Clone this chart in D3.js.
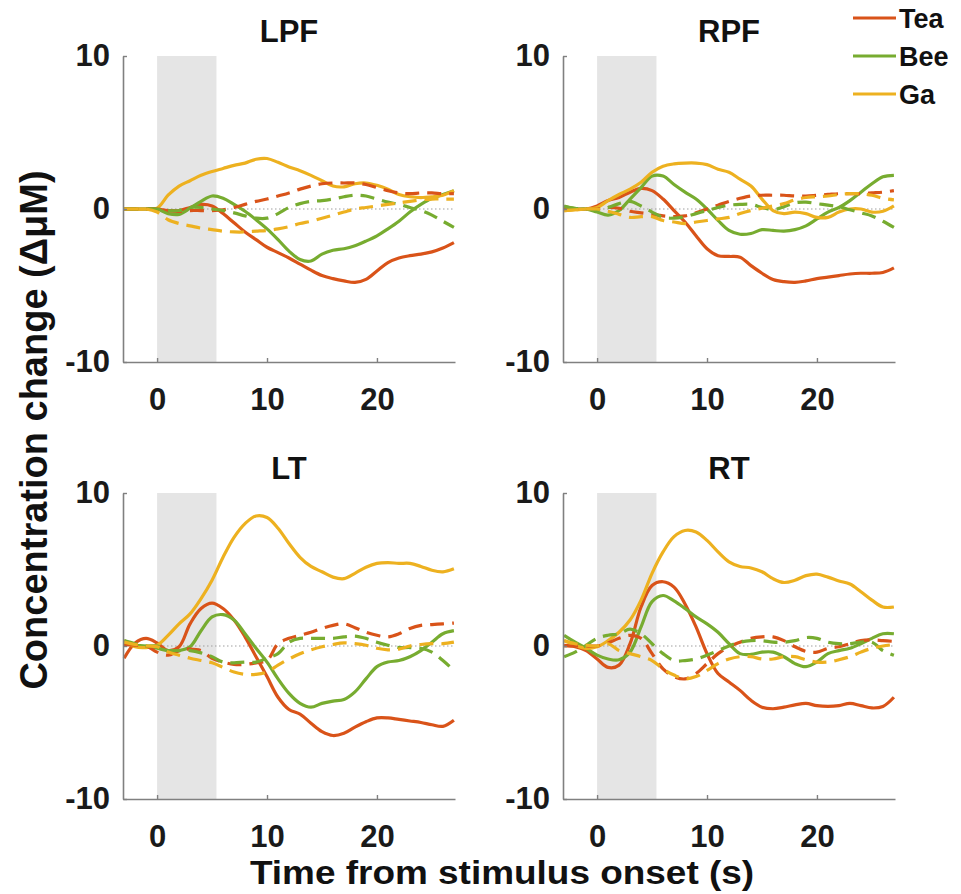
<!DOCTYPE html>
<html>
<head>
<meta charset="utf-8">
<script src="https://cdn.jsdelivr.net/npm/d3@7"></script>
<style>
  body { margin: 0; background: #fff; }
  svg { display: block; font-family: "Liberation Sans", Arial, sans-serif; font-weight: bold; }
</style>
</head>
<body>
<script>
// time samples (s)
var times = [-3,-2,-1,0,1,2,3,4,5,6,7,8,9,10,11,12,13,14,15,16,17,18,19,20,21,22,23,24,25,26,27];

var panelNames = ["LPF", "RPF", "LT", "RT"];
var seriesNames = ["Tea", "Bee", "Ga"];
var xTicks = [0, 10, 20];
var yTicks = [-10, 0, 10];
var stimEnd = 5.4;

// LPF
var lpfTea  = [0,0,0,0,-0.1,-0.1,0.1,0.3,0.2,-0.3,-0.9,-1.5,-2.0,-2.5,-2.85,-3.2,-3.6,-4.0,-4.35,-4.55,-4.7,-4.8,-4.6,-4.05,-3.5,-3.2,-3.05,-2.95,-2.8,-2.55,-2.2];
var lpfBee  = [0,0,0,0,-0.3,-0.35,0.05,0.5,0.85,0.7,0.3,-0.15,-0.7,-1.3,-2.0,-2.75,-3.3,-3.4,-2.95,-2.7,-2.6,-2.4,-2.1,-1.75,-1.3,-0.8,-0.2,0.3,0.7,0.95,1.2];
var lpfGa   = [0,0,0,0.05,0.9,1.5,1.85,2.2,2.45,2.65,2.85,3.0,3.25,3.3,3.05,2.75,2.5,2.2,1.85,1.5,1.45,1.65,1.7,1.55,1.3,0.95,0.8,0.75,0.8,0.9,1.2];
var lpfTeaD = [0,0,0,0,-0.1,-0.15,-0.1,-0.1,-0.1,-0.05,0.1,0.3,0.5,0.65,0.85,1.05,1.3,1.5,1.65,1.7,1.7,1.7,1.6,1.4,1.2,1.05,1.0,1.05,1.05,1.0,1.0];
var lpfBeeD = [0,0,0,0,-0.1,-0.1,0.1,0.1,0,-0.1,-0.25,-0.45,-0.6,-0.6,-0.3,0.1,0.35,0.5,0.55,0.65,0.8,0.9,0.85,0.65,0.45,0.3,0.1,-0.1,-0.4,-0.8,-1.2];
var lpfGaD  = [0,0,0,-0.2,-0.7,-0.95,-1.1,-1.25,-1.35,-1.45,-1.5,-1.5,-1.45,-1.4,-1.3,-1.15,-0.95,-0.8,-0.6,-0.4,-0.2,0,0.1,0.2,0.3,0.4,0.5,0.6,0.65,0.65,0.65];

// RPF
var rpfTea  = [0,0,0,0.2,0.55,0.75,1.1,1.35,1.2,0.65,-0.1,-0.85,-1.75,-2.6,-3.05,-3.1,-3.15,-3.7,-4.2,-4.6,-4.75,-4.8,-4.7,-4.55,-4.45,-4.35,-4.25,-4.2,-4.2,-4.15,-3.85];
var rpfBee  = [0.2,0,0,-0.2,-0.4,-0.1,0.65,1.4,2.15,2.15,1.6,1.1,0.65,0,-0.75,-1.4,-1.65,-1.6,-1.35,-1.4,-1.45,-1.35,-1.1,-0.65,-0.2,0.1,0.55,1.1,1.65,2.1,2.2];
var rpfGa   = [-0.1,-0.05,0,0.1,0.55,0.95,1.3,1.75,2.4,2.8,2.95,3.0,3.0,2.9,2.6,2.4,1.95,1.5,0.65,-0.1,-0.3,-0.2,-0.3,-0.55,-0.55,-0.2,0,0,-0.2,-0.15,0.2];
var rpfTeaD = [0,0,0,0,0.1,0.05,-0.15,-0.25,-0.35,-0.45,-0.5,-0.45,-0.25,0,0.25,0.5,0.7,0.85,0.9,0.9,0.9,0.85,0.85,0.9,0.95,1.0,1.0,1.0,1.05,1.1,1.2];
var rpfBeeD = [0.15,0.05,0,-0.05,0.1,0.35,0.5,0.2,-0.2,-0.55,-0.6,-0.5,-0.3,-0.1,0.1,0.25,0.3,0.3,0.1,-0.05,0.15,0.4,0.45,0.35,0.25,0.15,-0.05,-0.25,-0.45,-0.8,-1.2];
var rpfGaD  = [-0.1,-0.05,0,0,-0.15,-0.35,-0.55,-0.5,-0.5,-0.75,-0.85,-0.95,-0.85,-0.75,-0.65,-0.55,-0.3,-0.1,0.05,0.2,0.35,0.6,0.75,0.8,0.85,0.95,1.0,1.0,0.9,0.7,0.6];

// LT
var ltTea   = [-0.8,0.2,0.5,0.2,-0.3,-0.05,1.45,2.45,2.8,2.45,1.7,0.6,-0.7,-2.0,-3.35,-4.15,-4.45,-5.05,-5.6,-5.85,-5.7,-5.3,-4.95,-4.7,-4.7,-4.8,-4.9,-5.0,-5.15,-5.25,-4.85];
var ltBee   = [0.15,0.05,0,-0.15,-0.3,-0.3,-0.05,1.0,1.9,2.05,1.7,0.8,-0.15,-1.05,-2.15,-3.1,-3.75,-4.0,-3.75,-3.6,-3.5,-3.0,-2.15,-1.35,-1.05,-0.95,-0.7,-0.3,0.25,0.8,1.0];
var ltGa    = [0.35,-0.05,-0.1,0.05,0.7,1.45,2.1,3.1,4.3,5.8,7.1,8.0,8.5,8.4,7.7,6.7,5.8,5.2,4.85,4.5,4.4,4.75,5.15,5.4,5.45,5.4,5.4,5.2,4.95,4.85,5.05];
var ltTeaD  = [0.1,0.05,0,-0.4,-0.6,-0.3,-0.2,-0.3,-0.8,-1.05,-1.2,-1.2,-1.1,-0.95,0.15,0.5,0.7,0.9,1.15,1.35,1.45,1.2,0.9,0.7,0.6,0.8,1.15,1.35,1.4,1.45,1.5];
var ltBeeD  = [0.35,0.15,0,0,-0.3,-0.3,-0.3,-0.45,-0.7,-1.05,-1.1,-1.05,-1.05,-0.8,-0.5,0.25,0.5,0.5,0.5,0.5,0.6,0.65,0.5,0.25,0.05,-0.1,-0.1,-0.15,-0.4,-0.95,-1.6];
var ltGaD   = [0.25,0.1,0,-0.05,-0.4,-0.6,-0.8,-0.95,-1.1,-1.4,-1.7,-1.85,-1.85,-1.7,-1.25,-0.85,-0.5,-0.25,-0.05,0.1,0.2,0.15,0.05,-0.15,-0.25,-0.2,0,0.1,0.15,0.15,0.25];

// RT
var rtTea   = [0.05,-0.05,-0.3,-0.85,-1.4,-1.25,0.15,2.55,3.95,4.2,3.85,2.75,1.25,-0.5,-1.8,-2.35,-2.9,-3.55,-4.0,-4.1,-4.0,-3.85,-3.75,-3.9,-3.95,-3.9,-3.75,-3.9,-4.05,-3.95,-3.35];
var rtBee   = [0.7,0.25,-0.15,-0.6,-0.85,-0.9,-0.4,1.25,2.9,3.3,2.95,2.45,1.9,1.45,0.9,0.15,-0.5,-0.55,-0.4,-0.4,-0.7,-1.15,-1.35,-1.05,-0.5,-0.3,-0.15,0.15,0.5,0.8,0.8];
var rtGa    = [0.35,0.05,-0.15,-0.05,0.35,0.9,1.7,3.0,4.75,6.15,7.15,7.55,7.45,6.9,6.15,5.5,5.2,5.1,4.85,4.4,4.15,4.3,4.6,4.7,4.5,4.25,4.05,3.55,3.0,2.55,2.55];
var rtTeaD  = [0,0,0,0,0.2,0.5,0.7,0.5,-0.5,-1.5,-2.0,-2.15,-1.8,-1.15,-0.5,-0.05,0.25,0.5,0.6,0.6,0.35,-0.05,-0.35,-0.4,-0.15,-0.05,0.15,0.35,0.4,0.35,0.3];
var rtBeeD  = [-0.7,-0.4,0.05,0.5,0.7,0.8,1.1,0.8,0.15,-0.5,-0.95,-0.95,-0.85,-0.6,-0.3,0,0.25,0.35,0.35,0.25,0.25,0.35,0.55,0.5,0.25,0.15,0.15,0.25,0.25,-0.3,-0.6];
var rtGaD   = [0.35,0.15,0.05,0,0.15,-0.3,-0.5,-0.7,-0.95,-1.5,-1.9,-2.15,-2.0,-1.6,-1.15,-0.85,-0.7,-0.7,-0.85,-0.85,-0.7,-0.7,-0.9,-1.05,-1.05,-0.9,-0.7,-0.4,-0.15,0,0.1];

var colors = {Tea: "#D95319", Bee: "#77AC30", Ga: "#EDB120"};

var panels = [
  {name: "LPF", solid: [lpfTea, lpfBee, lpfGa], dashed: [lpfTeaD, lpfBeeD, lpfGaD], x0: 123, x1: 455, top: 56, bottom: 362},
  {name: "RPF", solid: [rpfTea, rpfBee, rpfGa], dashed: [rpfTeaD, rpfBeeD, rpfGaD], x0: 563, x1: 895, top: 56, bottom: 362},
  {name: "LT",  solid: [ltTea, ltBee, ltGa],    dashed: [ltTeaD, ltBeeD, ltGaD],    x0: 123, x1: 455, top: 493, bottom: 799},
  {name: "RT",  solid: [rtTea, rtBee, rtGa],    dashed: [rtTeaD, rtBeeD, rtGaD],    x0: 563, x1: 895, top: 493, bottom: 799}
];

var svg = d3.select("body").append("svg").attr("width", 961).attr("height", 894);

panels.forEach(function(p) {
  var x = d3.scaleLinear().domain([-3.1, 27.1]).range([p.x0, p.x1]);
  var y = d3.scaleLinear().domain([-10, 10]).range([p.bottom, p.top]);
  var g = svg.append("g");

  // stimulus period
  g.append("rect")
    .attr("x", x(0)).attr("y", y(10))
    .attr("width", x(stimEnd) - x(0)).attr("height", y(-10) - y(10))
    .attr("fill", "#e5e5e5");

  // zero line
  g.append("line")
    .attr("x1", x(-3.1)).attr("x2", x(27.1))
    .attr("y1", y(0)).attr("y2", y(0))
    .attr("stroke", "#a0a0a0").attr("stroke-width", 1.2)
    .attr("stroke-dasharray", "1.5,2.5");

  var line = d3.line()
    .x(function(d, i) { return x(times[i]); })
    .y(function(d) { return y(d); })
    .curve(d3.curveCatmullRom.alpha(0.5));

  p.solid.forEach(function(vals, k) {
    g.append("path").attr("d", line(vals))
      .attr("fill", "none").attr("stroke", colors[seriesNames[k]])
      .attr("stroke-width", 3.2);
  });
  p.dashed.forEach(function(vals, k) {
    g.append("path").attr("d", line(vals))
      .attr("fill", "none").attr("stroke", colors[seriesNames[k]])
      .attr("stroke-width", 3.2).attr("stroke-dasharray", "14,8");
  });

  // axes
  var xAxis = g.append("g").attr("transform", "translate(0," + p.bottom + ")")
    .call(d3.axisBottom(x).tickValues(xTicks).tickSize(-4).tickSizeOuter(0).tickPadding(26)
      .tickFormat(function(d) { return String(d); }));
  var yAxis = g.append("g").attr("transform", "translate(" + p.x0 + ",0)")
    .call(d3.axisLeft(y).tickValues(yTicks).tickSize(-4).tickSizeOuter(0).tickPadding(13)
      .tickFormat(function(d) { return String(d); }));
  [xAxis, yAxis].forEach(function(a) {
    a.select(".domain").attr("stroke", "#808080").attr("stroke-width", 1.6);
    a.selectAll(".tick line").attr("stroke", "#808080").attr("stroke-width", 1.4);
    a.selectAll(".tick text").attr("fill", "#1a1a1a")
      .style("font-size", "31px").style("font-weight", "bold")
      .style("font-family", "'Liberation Sans', Arial, sans-serif");
  });

  // title
  g.append("text")
    .attr("x", (p.x0 + p.x1) / 2).attr("y", p.top - 14)
    .attr("text-anchor", "middle").attr("fill", "#111")
    .style("font-size", "31px")
    .text(p.name);
});

// legend
var legend = svg.append("g");
seriesNames.forEach(function(s, i) {
  var ly = 18 + i * 38;
  legend.append("line").attr("x1", 853).attr("x2", 896).attr("y1", ly).attr("y2", ly)
    .attr("stroke", colors[s]).attr("stroke-width", 3);
  legend.append("text").attr("x", 899).attr("y", ly).attr("dy", "0.36em")
    .attr("fill", "#111").style("font-size", "27px").text(s);
});

// axis labels
svg.append("text")
  .attr("transform", "translate(502,884) scale(1.12,1)")
  .attr("text-anchor", "middle").attr("fill", "#111")
  .style("font-size", "33px")
  .text("Time from stimulus onset (s)");

svg.append("text")
  .attr("transform", "translate(47,430) rotate(-90)")
  .attr("text-anchor", "middle").attr("fill", "#111")
  .style("font-size", "38px")
  .text("Concentration change (\u0394\u03bcM)");
</script>
</body>
</html>
